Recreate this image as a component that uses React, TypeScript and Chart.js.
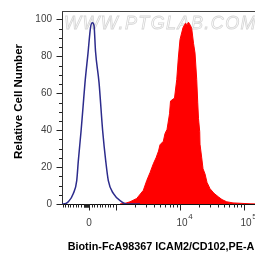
import React, { useEffect, useRef } from 'react';
import { Chart, LinearScale, registerables } from 'chart.js';

// ---------- data ----------
const X_TITLE = 'Biotin-FcA98367 ICAM2/CD102,PE-A';
const Y_TITLE = 'Relative Cell Number';
const WATERMARK = 'WWW.PTGLAB.COM';

const X_MIN = -1020;
const X_MAX = 262144;
const Y_MIN = 0;
const Y_MAX = 104.6;

// biexponential-like display: linear below LIN_LIMIT, log above
const LIN_LIMIT = 1000;
const LIN_DECADES = 0.414;

// control (unstained / isotype) histogram, outline only
const CONTROL_X = [-1020, -970, -781, -592, -464, -404, -302, -226, -151, -38, 57, 125, 189, 245, 377, 517, 630, 728, 917, 1250, 1496, 2414];
const CONTROL_Y = [0, 0, 1.2, 5.7, 12.7, 23.4, 39.3, 52.6, 65.9, 81.8, 95.6, 98.2, 96.7, 82.8, 65.9, 39.3, 23.4, 12.7, 5.7, 1.2, 0, 0];

// ICAM2 stained histogram, filled
const STAINED_X = [1176, 1459, 1685, 2145, 2719, 3073, 3460, 3896, 4295, 4698, 4959, 5584, 5935, 6377, 6980, 7234, 8353, 9044, 9578, 10181, 11342, 12409, 13096, 13822, 14853, 15509, 16548, 17468, 18569, 19247, 19809, 20681, 20907, 22230, 23291, 25022, 26896, 29966, 34596, 40392, 46140, 54640, 68550, 88170, 126400, 181100];
const STAINED_Y = [0, 0.5, 1.2, 3.0, 7.4, 12.7, 17.0, 21.8, 25.0, 28.7, 32.1, 34.0, 38.2, 40.4, 48.9, 55.8, 57.4, 67.4, 79.1, 89.2, 95.6, 98.0, 97.2, 98.5, 96.7, 95.1, 87.1, 81.8, 67.4, 55.2, 46.2, 39.3, 32.4, 25.0, 19.1, 16.3, 11.7, 8.3, 5.8, 3.9, 2.4, 1.2, 0.6, 0.4, 0.1, 0];

const Y_TICKS = [0, 20, 40, 60, 80, 100];
const Y_MINOR_TICKS = [5, 10, 15, 25, 30, 35, 45, 50, 55, 65, 70, 75, 85, 90, 95];

const X_MAJOR_TICKS = [0, 1000, 10000, 100000];
const X_MINOR_TICKS = [
  -1000, -900, -800, -700, -600, -500, -400, -300, -200, -180, -160, -140, -120, -100, -80, -60, -40, -20,
  100, 200, 300, 400, 500, 600, 700, 800, 900,
  2000, 3000, 4000, 5000, 6000, 7000, 8000, 9000,
  20000, 30000, 40000, 50000, 60000, 70000, 80000, 90000,
  200000,
];
const X_LABEL_VALUES = [0, 10000, 100000];
const X_LABEL_BASES = ['0', '10', '10'];
const X_LABEL_EXPONENTS = ['', '4', '5'];

const FONT = '"Liberation Sans", Arial, Helvetica, sans-serif';

// ---------- custom scale ----------
function fwd(v: number) {
  if (v <= LIN_LIMIT) return (v / LIN_LIMIT) * LIN_DECADES;
  return LIN_DECADES + Math.log10(v / LIN_LIMIT);
}
function inv(t: number) {
  if (t <= LIN_DECADES) return (t / LIN_DECADES) * LIN_LIMIT;
  return LIN_LIMIT * Math.pow(10, t - LIN_DECADES);
}

class BiexScale extends (LinearScale as any) {
  static id = 'biex';
  static defaults = { ticks: { callback: (v: any) => String(v) } };
  getPixelForValue(value: number) {
    const a = fwd((this as any).min);
    const b = fwd((this as any).max);
    return (this as any).getPixelForDecimal((fwd(value) - a) / (b - a));
  }
  getValueForPixel(pixel: number) {
    const a = fwd((this as any).min);
    const b = fwd((this as any).max);
    return inv(a + (this as any).getDecimalForPixel(pixel) * (b - a));
  }
}

Chart.register(...registerables, BiexScale as any);

const decor = {
  id: 'decor',
  beforeDatasetsDraw(chart: any) {
    const { ctx, chartArea: a } = chart;
    ctx.save();
    ctx.font = `italic 18px ${FONT}`;
    try { (ctx as any).letterSpacing = '1.4px'; } catch (e) {}
    ctx.strokeStyle = '#d6d6d6';
    ctx.lineWidth = 0.8;
    ctx.textAlign = 'left';
    ctx.textBaseline = 'alphabetic';
    ctx.strokeText(WATERMARK, a.left + 2, a.top + 18);
    ctx.restore();
  },
  afterDraw(chart: any) {
    const { ctx, chartArea: a, scales } = chart;
    const x = scales.x;
    const y = scales.y;
    ctx.save();
    // top frame
    ctx.strokeStyle = '#444';
    ctx.lineWidth = 1;
    ctx.beginPath();
    ctx.moveTo(a.left, Math.round(a.top) + 0.5);
    ctx.lineTo(a.right, Math.round(a.top) + 0.5);
    ctx.stroke();

    ctx.strokeStyle = '#222';
    ctx.beginPath();
    const xb = Math.round(a.bottom);
    for (const v of X_MINOR_TICKS) {
      const px = Math.round(x.getPixelForValue(v)) + 0.5;
      ctx.moveTo(px, xb);
      ctx.lineTo(px, xb + 3.5);
    }
    for (const v of X_MAJOR_TICKS) {
      const px = Math.round(x.getPixelForValue(v)) + 0.5;
      ctx.moveTo(px, xb);
      ctx.lineTo(px, xb + 6.5);
    }
    const yl = Math.round(a.left);
    for (const v of Y_MINOR_TICKS) {
      const py = Math.round(y.getPixelForValue(v)) + 0.5;
      ctx.moveTo(yl - 3, py);
      ctx.lineTo(yl, py);
    }
    for (const v of Y_TICKS) {
      const py = Math.round(y.getPixelForValue(v)) + 0.5;
      ctx.moveTo(yl - 5.5, py);
      ctx.lineTo(yl, py);
    }
    ctx.stroke();

    // x tick labels with superscript exponents
    ctx.fillStyle = '#404040';
    ctx.textBaseline = 'alphabetic';
    X_LABEL_VALUES.forEach((v, i) => {
      const px = x.getPixelForValue(v);
      const base = X_LABEL_BASES[i];
      const exp = X_LABEL_EXPONENTS[i];
      ctx.font = `10px ${FONT}`;
      if (!exp) {
        ctx.textAlign = 'center';
        ctx.fillText(base, px, 226);
      } else {
        ctx.textAlign = 'left';
        const bx = px - 3;
        ctx.fillText(base, bx, 226);
        const w = ctx.measureText(base).width;
        ctx.font = `8px ${FONT}`;
        ctx.fillText(exp, bx + w + 0.5, 218.5);
      }
    });

    // axis titles
    ctx.fillStyle = '#000';
    ctx.font = `bold 10.8px ${FONT}`;
    ctx.textAlign = 'center';
    ctx.textBaseline = 'alphabetic';
    ctx.fillText(X_TITLE, 161, 249.5);

    ctx.save();
    ctx.translate(21.5, 101.5);
    ctx.rotate(-Math.PI / 2);
    ctx.font = `bold 11.5px ${FONT}`;
    ctx.textAlign = 'center';
    ctx.textBaseline = 'alphabetic';
    ctx.fillText(Y_TITLE, 0, 0);
    ctx.restore();

    ctx.restore();
  },
};

export default function App() {
  const ref = useRef<HTMLCanvasElement | null>(null);
  useEffect(() => {
    if (!ref.current) return;
    Chart.defaults.font.family = FONT;
    const chart = new Chart(ref.current, {
      type: 'line',
      data: {
        datasets: [
          {
            label: 'Control',
            data: CONTROL_X.map((xv, i) => ({ x: xv, y: CONTROL_Y[i] })),
            borderColor: '#2c2b8c',
            borderWidth: 1.5,
            pointRadius: 0,
            fill: false,
            cubicInterpolationMode: 'monotone',
          },
          {
            label: 'ICAM2/CD102',
            data: STAINED_X.map((xv, i) => ({ x: xv, y: STAINED_Y[i] })),
            borderColor: '#ff0000',
            backgroundColor: '#ff0000',
            borderWidth: 1,
            pointRadius: 0,
            fill: 'origin',
            tension: 0,
          },
        ],
      },
      options: {
        responsive: false,
        animation: false,
        devicePixelRatio: 1,
        layout: { padding: { top: 7, right: 7.7, left: 0, bottom: 0 } },
        plugins: { legend: { display: false }, tooltip: { enabled: false } },
        scales: {
          x: {
            type: 'biex',
            min: X_MIN,
            max: X_MAX,
            afterBuildTicks: (s: any) => { s.ticks = X_MAJOR_TICKS.map((v) => ({ value: v })); },
            afterFit: (s: any) => { s.height = 54; },
            grid: { display: false, drawTicks: false },
            border: { display: true, color: '#111', width: 1 },
            ticks: { display: false },
            title: { display: false, text: X_TITLE },
          },
          y: {
            type: 'linear',
            min: Y_MIN,
            max: Y_MAX,
            afterBuildTicks: (s: any) => { s.ticks = Y_TICKS.map((v) => ({ value: v })); },
            afterFit: (s: any) => { s.width = 62; },
            grid: { display: false, drawTicks: true, tickLength: 5 },
            border: { display: true, color: '#333', width: 1 },
            ticks: { color: '#404040', font: { family: FONT, size: 10 }, padding: 5 },
            title: { display: false, text: Y_TITLE },
          },
        },
      } as any,
      plugins: [decor],
    } as any);
    return () => chart.destroy();
  }, []);

  return (
    <div style={{ position: 'fixed', left: 0, top: 0, width: 255, height: 258, overflow: 'hidden', background: '#fff' }}>
      <canvas ref={ref} width={278} height={258} style={{ display: 'block', width: 278, height: 258 }} />
    </div>
  );
}
